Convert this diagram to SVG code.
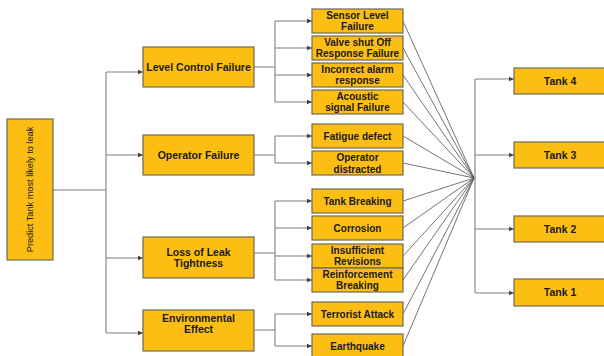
<svg xmlns="http://www.w3.org/2000/svg" width="604" height="356" viewBox="0 0 604 356">
<defs>
<marker id="ah" markerWidth="6" markerHeight="6" refX="5" refY="3" orient="auto" markerUnits="userSpaceOnUse">
<path d="M0,0.8 L5,3 L0,5.2 Z" fill="#404040"/>
</marker>
<style>
.box{fill:#FDBE14;stroke:#6e6a58;stroke-width:1.2}
.t{font-family:"Liberation Sans",Arial,sans-serif;font-weight:bold;font-size:10px;fill:#1a1a1a;text-anchor:middle}
.m{font-size:10.5px}
.r{font-family:"Liberation Sans",Arial,sans-serif;font-size:9.2px;fill:#1a1a1a;text-anchor:middle}
.c{fill:none;stroke:#808080;stroke-width:1.1}
.a{fill:none;stroke:#808080;stroke-width:1.1;marker-end:url(#ah)}
.d{fill:none;stroke:#505050;stroke-width:0.8}
</style>
</defs>
<rect width="604" height="356" fill="#ffffff"/>
<g id="connectors">
<path class="c" d="M53,190 H106 M106,72 V333"/>
<path class="a" d="M106,72 H143"/>
<path class="a" d="M106,155 H143"/>
<path class="a" d="M106,258 H143"/>
<path class="a" d="M106,333 H143"/>
<path class="c" d="M254,67 H275 M275,21 V102"/>
<path class="a" d="M275,21 H312"/><path class="a" d="M275,48 H312"/><path class="a" d="M275,75 H312"/><path class="a" d="M275,102 H312"/>
<path class="c" d="M254,155 H275 M275,136 V163"/>
<path class="a" d="M275,136 H312"/><path class="a" d="M275,163 H312"/>
<path class="c" d="M254,253 H275 M275,201 V280"/>
<path class="a" d="M275,201 H312"/><path class="a" d="M275,228 H312"/><path class="a" d="M275,256 H312"/><path class="a" d="M275,280 H312"/>
<path class="c" d="M254,330 H275 M275,314 V346"/>
<path class="a" d="M275,314 H312"/><path class="a" d="M275,346 H312"/>
<path class="d" d="M403,21 L474,178 M403,48 L474,178 M403,75 L474,178 M403,102 L474,178 M403,136 L474,178 M403,163 L474,178 M403,201 L474,178 M403,228 L474,178 M403,256 L474,178 M403,280 L474,178 M403,314 L474,178 M403,346 L474,178"/>
<path class="c" d="M475,79 V293"/>
<path class="a" d="M475,79 H514"/><path class="a" d="M475,155 H514"/><path class="a" d="M475,229 H514"/><path class="a" d="M475,293 H514"/>
</g>
<g id="root"><rect class="box" x="7" y="119" width="46" height="141"/><text class="r" transform="translate(33,189.5) rotate(-90)">Predict Tank most likely to leak</text></g>
<g id="level-control"><rect class="box" x="143" y="47" width="111" height="40"/><text class="t m" x="198.5" y="70.5">Level Control Failure</text></g>
<g id="operator-failure"><rect class="box" x="143" y="135" width="111" height="40"/><text class="t m" x="198.5" y="158.5">Operator Failure</text></g>
<g id="loss-leak"><rect class="box" x="143" y="237" width="111" height="41"/><text class="t m" x="198.5" y="255.5">Loss of Leak</text><text class="t m" x="198.5" y="267">Tightness</text></g>
<g id="environmental"><rect class="box" x="143" y="310" width="111" height="41"/><text class="t m" x="198.5" y="321.5">Environmental</text><text class="t m" x="198.5" y="333">Effect</text></g>
<g id="sensor"><rect class="box" x="312" y="9" width="91" height="24"/><text class="t" x="357.5" y="18.5">Sensor Level</text><text class="t" x="357.5" y="30">Failure</text></g>
<g id="valve"><rect class="box" x="312" y="36" width="91" height="24"/><text class="t" x="357.5" y="45.5">Valve shut Off</text><text class="t" x="357.5" y="57">Response Failure</text></g>
<g id="alarm"><rect class="box" x="312" y="63" width="91" height="24"/><text class="t" x="357.5" y="72.5">Incorrect alarm</text><text class="t" x="357.5" y="84">response</text></g>
<g id="acoustic"><rect class="box" x="312" y="90" width="91" height="24"/><text class="t" x="357.5" y="99.5">Acoustic</text><text class="t" x="357.5" y="111">signal Failure</text></g>
<g id="fatigue"><rect class="box" x="312" y="124" width="91" height="24"/><text class="t" x="357.5" y="139.5">Fatigue defect</text></g>
<g id="distracted"><rect class="box" x="312" y="151" width="91" height="24"/><text class="t" x="357.5" y="161">Operator</text><text class="t" x="357.5" y="172.5">distracted</text></g>
<g id="tank-breaking"><rect class="box" x="312" y="189" width="91" height="24"/><text class="t" x="357.5" y="204.5">Tank Breaking</text></g>
<g id="corrosion"><rect class="box" x="312" y="216" width="91" height="24"/><text class="t" x="357.5" y="231.5">Corrosion</text></g>
<g id="insufficient"><rect class="box" x="312" y="244" width="91" height="24"/><text class="t" x="357.5" y="253.5">Insufficient</text><text class="t" x="357.5" y="265">Revisions</text></g>
<g id="reinforcement"><rect class="box" x="312" y="268" width="91" height="24"/><text class="t" x="357.5" y="277.5">Reinforcement</text><text class="t" x="357.5" y="289">Breaking</text></g>
<g id="terrorist"><rect class="box" x="312" y="302" width="91" height="24"/><text class="t" x="357.5" y="317.5">Terrorist Attack</text></g>
<g id="earthquake"><rect class="box" x="312" y="334" width="91" height="24"/><text class="t" x="357.5" y="349.5">Earthquake</text></g>
<g id="tank4"><rect class="box" x="514" y="68" width="95" height="26"/><text class="t m" x="560" y="84.5">Tank 4</text></g>
<g id="tank3"><rect class="box" x="514" y="142" width="95" height="26"/><text class="t m" x="560" y="158.5">Tank 3</text></g>
<g id="tank2"><rect class="box" x="514" y="216" width="95" height="26"/><text class="t m" x="560" y="232.5">Tank 2</text></g>
<g id="tank1"><rect class="box" x="514" y="279" width="95" height="27"/><text class="t m" x="560" y="296">Tank 1</text></g>
</svg>
